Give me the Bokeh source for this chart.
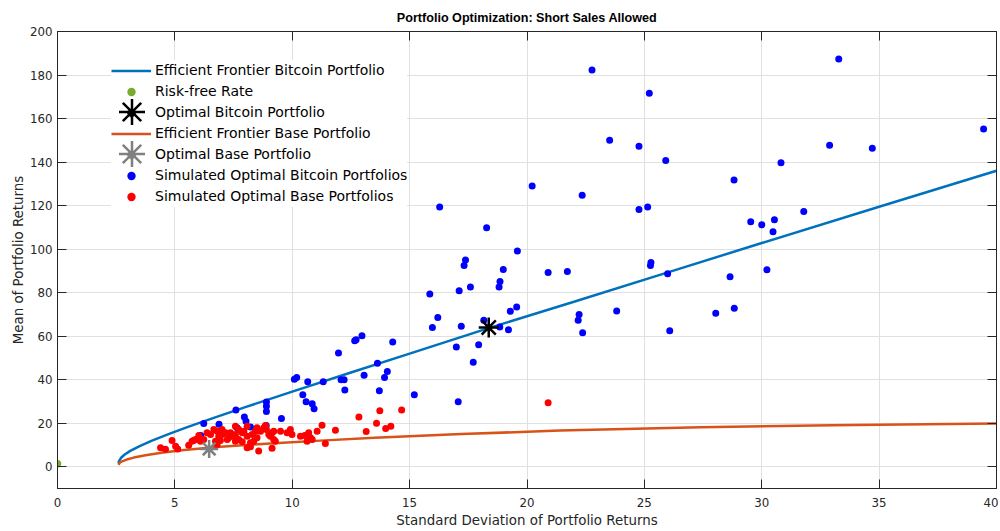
from bokeh.plotting import figure
from bokeh.models import Range1d, FixedTicker, Legend, LegendItem, LinearAxis
from bokeh.embed import file_html
from bokeh.resources import INLINE

# ---------------- data ----------------
x_ticks = [0, 5, 10, 15, 20, 25, 30, 35, 40]
y_ticks = [0, 20, 40, 60, 80, 100, 120, 140, 160, 180, 200]

# efficient frontier, bitcoin portfolio
btc_front_sd = [2.60, 2.62, 2.70, 2.85, 3.10, 3.50, 4.00, 4.70, 5.50, 6.50, 8.00,
                10.0, 12.5, 15.0, 18.4, 22.0, 26.0, 30.0, 35.0, 40.0]
btc_front_mu = [1.5, 2.6, 4.0, 5.5, 7.3, 9.5, 11.9, 14.9, 18.1, 21.9, 27.4,
                34.5, 43.3, 52.0, 63.8, 75.8, 89.3, 102.8, 119.5, 136.0]

# efficient frontier, base portfolio
base_front_sd = [2.60, 2.65, 2.75, 2.95, 3.25, 3.75, 4.50, 5.40, 6.80, 8.20, 9.60,
                 11.2, 13.5, 17.2, 21.4, 27.4, 33.0, 40.0]
base_front_mu = [0.9, 1.8, 2.5, 3.3, 4.2, 5.3, 6.5, 7.7, 9.1, 10.1, 11.0,
                 12.0, 13.3, 15.0, 16.6, 18.2, 19.1, 19.9]

rf_sd = [0.0]
rf_mu = [1.4]

opt_btc_sd = [18.37]
opt_btc_mu = [64.0]

opt_base_sd = [6.46]
opt_base_mu = [8.2]

blue_sd = [22.77, 25.21, 33.28, 23.52, 24.77, 25.91, 32.89, 34.71, 39.45, 22.35,
           28.82, 30.82, 24.77, 25.14, 31.79, 29.53, 30.00, 30.54, 30.48, 30.22,
           28.65, 28.83, 28.04, 16.28, 18.28, 19.59, 17.38, 17.32, 18.99, 20.90,
           21.72, 25.28, 25.26, 25.99, 18.85, 18.81, 15.86, 17.11, 17.59, 19.29,
           19.56, 23.82, 22.22, 22.18, 22.37, 26.08, 16.20, 15.97, 17.20, 18.16,
           18.84, 19.21, 16.99, 17.94, 17.71, 17.07, 15.20, 13.71, 12.24, 13.06,
           13.93, 14.05, 12.08, 12.21, 11.32, 10.85, 10.93, 14.28, 12.97, 12.66,
           12.72, 11.97, 13.63, 10.09, 10.19, 10.66, 10.45, 10.59, 8.90, 8.90,
           8.90, 6.23, 6.88, 7.60, 7.96, 8.03, 7.65, 8.22, 8.89, 9.54,
           6.10, 20.22]
blue_mu = [182.3, 171.6, 187.4, 150.0, 147.3, 140.7, 147.7, 146.3, 155.2, 124.8,
           131.8, 139.7, 118.2, 119.3, 117.3, 112.6, 111.2, 113.5, 108.0, 90.5,
           87.3, 72.8, 70.5, 119.3, 109.8, 99.1, 95.0, 92.5, 90.6, 89.3,
           89.7, 93.9, 92.5, 88.7, 85.1, 82.6, 79.4, 80.9, 82.6, 71.4,
           73.4, 71.6, 70.0, 67.3, 61.6, 62.5, 68.6, 64.0, 64.5, 67.3,
           64.2, 63.0, 55.0, 56.0, 48.0, 29.9, 33.1, 34.9, 35.3, 42.0,
           41.0, 43.8, 40.0, 40.0, 39.0, 28.9, 26.6, 57.3, 60.2, 57.9,
           58.4, 52.3, 47.5, 40.2, 41.0, 39.1, 33.1, 29.9, 29.8, 27.8,
           25.4, 19.9, 19.5, 26.1, 22.8, 20.9, 17.9, 18.3, 18.9, 22.2,
           14.3, 129.0]

red_sd = [4.39, 4.60, 4.88, 5.03, 5.12, 5.59, 5.73, 5.88, 6.09, 6.23,
          6.02, 6.37, 6.52, 6.66, 6.80, 6.87, 6.73, 6.80, 7.01, 7.16,
          7.23, 7.29, 7.01, 7.37, 7.44, 7.58, 7.58, 7.72, 7.58, 7.72,
          7.87, 7.87, 7.94, 8.08, 8.08, 8.29, 8.43, 8.50, 8.22, 8.08,
          8.22, 8.57, 8.50, 8.65, 8.79, 8.90, 9.00, 9.07, 9.21, 9.28,
          9.14, 9.21, 9.50, 9.78, 9.92, 9.99, 10.35, 10.70, 10.78, 10.63,
          11.06, 11.27, 11.41, 11.84, 12.84, 13.15, 13.59, 13.73, 13.98, 14.20,
          14.66, 20.90, 8.36, 8.86, 9.14, 10.53, 10.85, 6.94, 5.80]
red_mu = [8.7, 8.0, 12.1, 9.4, 8.1, 9.9, 11.7, 12.5, 11.7, 12.5,
          14.4, 15.6, 14.8, 17.1, 16.3, 14.0, 11.7, 10.2, 14.8, 15.6,
          12.5, 13.3, 17.1, 15.6, 14.0, 14.8, 11.7, 12.5, 18.6, 17.1,
          15.6, 11.5, 16.3, 18.6, 14.0, 14.8, 16.3, 13.3, 11.0, 8.7,
          9.2, 7.2, 17.9, 16.3, 17.9, 17.1, 14.8, 14.0, 16.3, 11.7,
          8.5, 12.5, 16.3, 15.6, 17.1, 14.8, 14.0, 15.6, 13.3, 11.7,
          16.3, 19.1, 10.7, 16.8, 22.8, 16.2, 20.0, 25.7, 17.6, 18.6,
          26.1, 29.4, 11.7, 18.9, 15.6, 14.4, 12.5, 12.1, 12.1]

labels = ["Efficient Frontier Bitcoin Portfolio", "Risk-free Rate",
          "Optimal Bitcoin Portfolio", "Efficient Frontier Base Portfolio",
          "Optimal Base Portfolio", "Simulated Optimal Bitcoin Portfolios",
          "Simulated Optimal Base Portfolios"]

# ---------------- figure ----------------
FONT = "DejaVu Sans"
AX = "#262626"
W, H = 998, 530
TOP, BOTTOM = 31, 41

p = figure(width=W, height=H, output_backend="svg", toolbar_location=None,
           x_range=Range1d(0, 40), y_range=Range1d(-10, 200),
           min_border_left=57, min_border_right=2, min_border_top=TOP,
           min_border_bottom=BOTTOM,
           title="Portfolio Optimization: Short Sales Allowed")
p.outline_line_color = AX
p.outline_line_width = 1
p.background_fill_color = "white"
p.border_fill_color = "white"

p.title.align = "center"
p.title.vertical_align = "middle"
p.title.text_font = "Liberation Sans"
p.title.text_font_style = "bold"
p.title.text_font_size = "12.6px"
p.title.text_color = "#000000"
p.title.standoff = 11

xt = FixedTicker(ticks=x_ticks)
yt = FixedTicker(ticks=y_ticks)
p.xaxis.ticker = xt
p.yaxis.ticker = yt
p.xgrid.ticker = xt
p.ygrid.ticker = yt
for g in (p.xgrid, p.ygrid):
    g.grid_line_color = "#e0e0e0"
    g.grid_line_width = 1

for ax in (p.xaxis[0], p.yaxis[0]):
    ax.axis_line_color = AX
    ax.axis_line_width = 1
    ax.major_tick_line_color = AX
    ax.major_tick_in = 9
    ax.major_tick_out = 0
    ax.minor_tick_line_color = None
    ax.major_label_text_font = FONT
    ax.major_label_text_font_size = "11.8px"
    ax.major_label_text_color = AX
    ax.axis_label_text_font = FONT
    ax.axis_label_text_font_size = "13.4px"
    ax.axis_label_text_font_style = "normal"
    ax.axis_label_text_color = AX

p.xaxis[0].axis_label = "Standard Deviation of Portfolio Returns"
p.yaxis[0].axis_label = "Mean of Portfolio Returns"
p.xaxis[0].major_label_standoff = 9
p.xaxis[0].axis_label_standoff = 3
p.yaxis[0].major_label_standoff = 5
p.yaxis[0].axis_label_standoff = 1

# box ticks on top and right (labels not drawn)
for loc, tk in (("above", xt), ("right", yt)):
    bx = LinearAxis(ticker=tk, major_tick_in=9, major_tick_out=0,
                    minor_tick_line_color=None, axis_line_color=AX,
                    major_tick_line_color=AX, major_label_standoff=0,
                    major_label_text_color=None, major_label_text_font_size="1px")
    p.add_layout(bx, loc)

# ---------------- glyphs ----------------
r_btc_line = p.line(btc_front_sd, btc_front_mu, line_color="#0072BD", line_width=2.5)
r_base_line = p.line(base_front_sd, base_front_mu, line_color="#D95319", line_width=2.5)
r_blue = p.scatter(blue_sd, blue_mu, size=7, fill_color="#0000FF", line_color=None)
r_red = p.scatter(red_sd, red_mu, size=7, fill_color="#FF0000", line_color=None)
r_rf = p.scatter(rf_sd, rf_mu, size=7.5, fill_color="#77AC30", line_color=None)
r_opt_btc = p.scatter(opt_btc_sd, opt_btc_mu, marker="asterisk", size=20,
                      line_color="#000000", line_width=2.5)
r_opt_base = p.scatter(opt_base_sd, opt_base_mu, marker="asterisk", size=18,
                       line_color="#808080", line_width=2.5)

# ---------------- legend ----------------
FH = H - TOP - BOTTOM  # frame height
renderers = [r_btc_line, r_rf, r_opt_btc, r_base_line, r_opt_base, r_blue, r_red]
main_leg = Legend(items=[LegendItem(label=l, renderers=[r]) for l, r in zip(labels, renderers)],
                  location=(54, FH - 176.5), glyph_width=40, glyph_height=21, label_height=21,
                  label_standoff=4, spacing=0, padding=10, margin=0,
                  background_fill_color="white", background_fill_alpha=1.0,
                  border_line_color=None,
                  label_text_font=FONT, label_text_font_size="14px", label_text_color="#000000")
p.add_layout(main_leg)

for r, cy in ((r_opt_btc, 81.0), (r_opt_base, 123.0)):
    ov = Legend(items=[LegendItem(label=" ", renderers=[r])],
                location=(42, FH - cy - 32.5), glyph_width=65, glyph_height=65,
                label_width=0, label_height=0, label_standoff=0, padding=0, margin=0,
                spacing=0, background_fill_alpha=0, border_line_color=None,
                label_text_font_size="1px")
    p.add_layout(ov)

open("out.html", "w").write(file_html(p, INLINE))
